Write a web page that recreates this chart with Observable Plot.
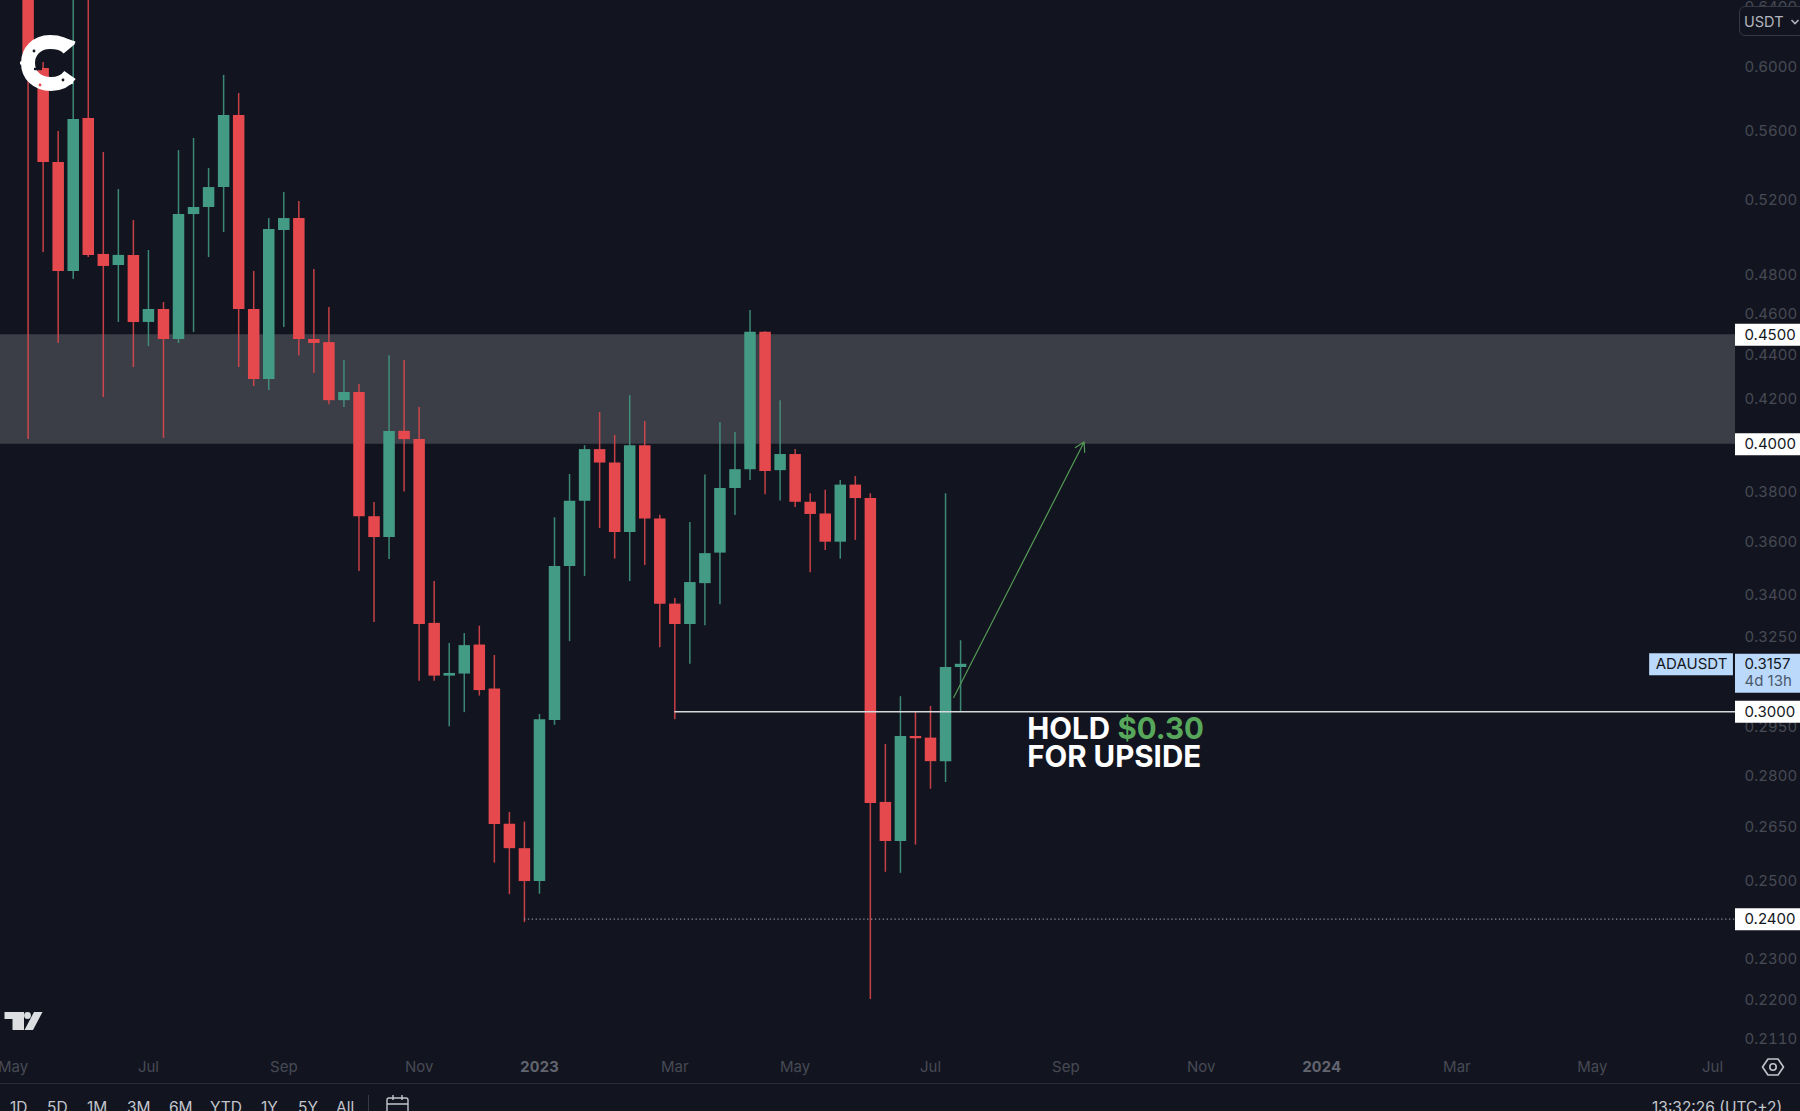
<!DOCTYPE html>
<html>
<head>
<meta charset="utf-8">
<script src="https://cdn.jsdelivr.net/npm/d3@7"></script>
<script src="https://cdn.jsdelivr.net/npm/@observablehq/plot@0.6"></script>
<style>
html,body{margin:0;padding:0;background:#12151f;}
#stage{position:relative;width:1800px;height:1111px;overflow:hidden;background:#12151f;font-family:Inter,"Noto Sans",sans-serif;}
#stage svg.plot{display:block;position:absolute;left:0;top:0;max-width:none;}
.ov{position:absolute;white-space:nowrap;line-height:1;}
.range{position:absolute;top:1100px;font-size:15.5px;color:#c3c5cc;line-height:1;white-space:nowrap;}
</style>
</head>
<body>
<div id="stage"></div>
<script>
// Weekly candles ADAUSDT, May 2022 - Jul 2023
const open = [.6657,.5992,.5416,.4817,.5678,.4906,.4848,.4901,.4560,.4624,.4477,.5121,.5160,.5272,.5697,.4624,.4288,.5034,.5099,.4477,.4462,.4192,.4229,.3700,.3618,.4056,.4020,.3299,.3117,.3124,.3223,.3074,.2658,.2589,.2499,.2972,.3507,.3762,.3977,.3920,.3638,.3994,.3691,.3368,.3295,.3443,.3558,.3814,.3892,.4512,.3888,.3956,.3758,.3711,.3600,.3828,.3773,.2721,.2609,.2921,.2916,.2843,.3146];
const close = [.5992,.5416,.4817,.5673,.4901,.4843,.4901,.4560,.4624,.4477,.5121,.5160,.5272,.5697,.4624,.4288,.5039,.5099,.4477,.4458,.4192,.4229,.3700,.3618,.4055,.4020,.3295,.3117,.3126,.3221,.3069,.2657,.2589,.2499,.2974,.3507,.3762,.3977,.3920,.3638,.3994,.3691,.3368,.3295,.3447,.3556,.3814,.3892,.4512,.3884,.3956,.3758,.3709,.3600,.3828,.3773,.2718,.2609,.2921,.2914,.2843,.3146,.3157];
const high = [.6877,.6031,.5600,.6587,.6587,.5475,.5261,.5088,.4927,.4659,.5486,.5558,.5381,.5948,.5833,.4817,.5099,.5244,.5194,.4827,.4634,.4377,.4265,.3757,.4400,.4377,.4161,.3451,.3228,.3263,.3289,.3187,.2692,.2664,.2991,.3696,.3872,.3994,.4139,.4038,.4215,.4099,.3706,.3388,.3677,.3870,.4094,.4051,.4619,.4515,.4192,.3977,.3793,.3807,.3847,.3864,.3793,.2896,.3049,.2997,.3017,.3793,.3238];
const low = [.4020,.4916,.4458,.4775,.4890,.4206,.4560,.4344,.4443,.4025,.4458,.4511,.4890,.5023,.4344,.4256,.4238,.4535,.4400,.4316,.4174,.4161,.3488,.3302,.3534,.3800,.3100,.3100,.2952,.2997,.3051,.2549,.2464,.2391,.2465,.2956,.3235,.3470,.3653,.3535,.3451,.3511,.3214,.2974,.3157,.3291,.3366,.3705,.3847,.3789,.3763,.3737,.3484,.3568,.3535,.3607,.2201,.2524,.2521,.2599,.2760,.2780,.2998];
const firstWeek = new Date(Date.UTC(2022,4,9));
const weeks = open.map((_, i) => d3.utcDay.offset(firstWeek, i * 7));

const bg = "#12151f", red = "#e5484d", green = "#449b85";
const candles = weeks.map((date, i) => ({date, open: open[i], close: close[i], high: high[i], low: low[i], up: close[i] >= open[i]}));

// Scales and axis ticks
const xDomain = [new Date("2022-04-26T03:36Z"), new Date("2024-07-11T16:00Z")];
const xFar = new Date("2025-01-01T00:00Z");
const yDomain = [0.2095, 0.6447];
const priceTicks = [.64,.60,.56,.52,.48,.46,.44,.42,.38,.36,.34,.325,.295,.28,.265,.25,.23,.22,.211];
const monthTicks = ["2022-05-02","2022-07-04","2022-09-05","2022-11-07","2023-03-06","2023-05-01","2023-07-03","2023-09-04","2023-11-06","2024-03-04","2024-05-06","2024-07-01"].map(d => new Date(d + "T00:00Z"));
const yearTicks = ["2023-01-02","2024-01-01"].map(d => new Date(d + "T00:00Z"));
const monthName = d3.utcFormat("%b"), yearName = d3.utcFormat("%Y");

// Drawn levels and annotations
const zone = {low: .40, high: .45};
const levelBoxes = [.45, .40, .30, .24];
const holdLevel = {price: .30, from: new Date("2023-03-06T00:00Z")};
const floorLevel = {price: .24, from: new Date("2022-12-26T00:00Z")};
const lastPrice = .3157;
const arrow = [{x1: new Date("2023-07-13T19:00Z"), y1: .3046, x2: new Date("2023-09-12T12:00Z"), y2: .401}];
const notes = [
  {text: "HOLD", date: new Date("2023-08-17T00:00Z"), price: .2943, color: "#ffffff"},
  {text: "$0.30", date: new Date("2023-09-28T00:00Z"), price: .2943, color: "#58a85c"},
  {text: "FOR UPSIDE", date: new Date("2023-08-17T00:00Z"), price: .2856, color: "#ffffff"}
];
const tagFrom = new Date("2024-06-01T17:00Z"), tagTo = new Date("2024-07-10T17:00Z"), tagMid = new Date("2024-06-21T05:00Z");
const ranges = [["1D",10],["5D",47],["1M",87],["3M",127],["6M",169],["YTD",210],["1Y",261],["5Y",298],["All",336]];

const fmt = d => d.toFixed(4);
const chart = Plot.plot({
  width: 1800, height: 1111,
  marginLeft: 0, marginRight: 65, marginTop: 0, marginBottom: 66,
  style: {background: bg, fontFamily: "Inter, 'Noto Sans', sans-serif", overflow: "hidden"},
  x: {type: "utc", domain: xDomain},
  y: {type: "log", domain: yDomain},
  marks: [
    Plot.axisY(priceTicks, {anchor: "right", tickSize: 0, tickPadding: 9, tickFormat: fmt, label: null, fontSize: 15, fill: "#474a55"}),
    Plot.axisX(monthTicks, {tickSize: 0, tickPadding: 16, tickFormat: d => monthName(d), label: null, fontSize: 15, fill: "#474a55"}),
    Plot.axisX(yearTicks, {tickSize: 0, tickPadding: 16, tickFormat: d => yearName(d), label: null, fontSize: 15, fontWeight: 700, fill: "#62656f"}),
    Plot.rect([zone], {x1: () => xDomain[0], x2: () => xDomain[1], y1: "low", y2: "high", fill: "#3b3e47"}),
    Plot.ruleX(candles, {x: "date", y1: "low", y2: "high", stroke: d => d.up ? green : red, strokeWidth: 1.5, strokeOpacity: 0.85, clip: "frame"}),
    Plot.ruleX(candles, {x: "date", y1: "open", y2: "close", stroke: d => d.up ? green : red, strokeWidth: 11.5, clip: "frame"}),
    Plot.ruleY([floorLevel], {y: "price", x1: "from", x2: () => xDomain[1], stroke: "#8e9096", strokeWidth: 1.3, strokeDasharray: "1.3 2.6"}),
    Plot.ruleY([holdLevel], {y: "price", x1: "from", x2: () => xDomain[1], stroke: "#d8d9dc", strokeWidth: 1.4}),
    Plot.arrow(arrow, {x1: "x1", y1: "y1", x2: "x2", y2: "y2", stroke: "#559a57", strokeWidth: 1.2, bend: 0, headLength: 13}),
    Plot.text(notes, {x: "date", y: "price", text: "text", fill: "color", textAnchor: "start", fontSize: 29.5, fontWeight: 700}),
    Plot.ruleY(levelBoxes, {x1: () => xDomain[1], x2: () => xFar, stroke: "#ffffff", strokeWidth: 22}),
    Plot.text(levelBoxes, {x: () => xDomain[1], y: d => d, dx: 9, text: fmt, textAnchor: "start", fill: "#131722", fontSize: 15}),
    Plot.ruleY([lastPrice], {x1: () => xDomain[1], x2: () => xFar, dy: 9, stroke: "#bbd9fb", strokeWidth: 39}),
    Plot.ruleY([lastPrice], {x1: () => tagFrom, x2: () => tagTo, stroke: "#bbd9fb", strokeWidth: 22}),
    Plot.text(["ADAUSDT"], {x: () => tagMid, y: () => lastPrice, text: d => d, fill: "#131722", fontSize: 15}),
    Plot.text([lastPrice], {x: () => xDomain[1], y: d => d, dx: 9, text: fmt, textAnchor: "start", fill: "#131722", fontSize: 15}),
    Plot.text(["4d 13h"], {x: () => xDomain[1], y: () => lastPrice, dx: 9, dy: 17, text: d => d, textAnchor: "start", fill: "#4c5a6d", fontSize: 15})
  ]
});

const stage = document.getElementById("stage");
stage.appendChild(chart);

// TradingView chrome around the chart
const chrome = document.createElement("div");
chrome.innerHTML = `
<div class="ov" style="left:1739px;top:6px;width:80px;height:30px;box-sizing:border-box;border:1px solid #363a45;border-radius:6px;background:#12151f;"></div>
<div class="ov" style="left:1744px;top:15px;font-size:14.5px;color:#b2b5be;">USDT</div>
<svg class="ov" style="left:1790px;top:18px" width="10" height="8"><path d="M1.5 2 L5 5.5 L8.5 2" fill="none" stroke="#b2b5be" stroke-width="1.6"/></svg>
<div class="ov" style="left:0;top:1083px;width:1800px;height:1px;background:#2a2e39;"></div>
${ranges.map(([t, x]) => `<div class="range" style="left:${x}px">${t}</div>`).join("")}
<div class="ov" style="left:368px;top:1095px;width:1px;height:16px;background:#363a45;"></div>
<svg class="ov" style="left:386px;top:1095px" width="24" height="16"><rect x="1" y="3" width="21" height="18" rx="2" fill="none" stroke="#c3c5cc" stroke-width="1.4"/><path d="M1 9 H22 M7 0 V5 M16 0 V5" stroke="#c3c5cc" stroke-width="1.4"/></svg>
<div class="range" style="left:1652px;">13:32:26 (UTC+2)</div>
<svg class="ov" style="left:1761px;top:1056px" width="24" height="22"><path d="M7 3 H17 L22.5 11 L17 19 H7 L1.5 11 Z" fill="none" stroke="#c3c5cc" stroke-width="1.6" stroke-linejoin="round"/><circle cx="12" cy="11" r="3.2" fill="none" stroke="#c3c5cc" stroke-width="1.6"/></svg>
<svg class="ov" style="left:0;top:1005px" width="50" height="30"><path d="M4.5 7 H24 V25 H12.5 V14 H4.5 Z M34 7 H42.5 L33 25 H24.5 Z" fill="#dcdee2"/><circle cx="27.5" cy="10.5" r="3.4" fill="#dcdee2"/></svg>
<svg class="ov" style="left:15px;top:30px" width="70" height="70">
  <path d="M54 19 C49 13 42 12 35 12 C21 12 13 22 13 33 C13 45 22 54 36 54 C44 54 50 52 55 45" fill="none" stroke="#ffffff" stroke-width="14"/>
  <path d="M5 33 H14 M48 9 L60 13 M44 56 L58 52" stroke="#ffffff" stroke-width="3"/>
  <circle cx="19" cy="21" r="1.4" fill="#12151f"/><circle cx="48" cy="50" r="1.4" fill="#12151f"/><circle cx="25" cy="55" r="1.4" fill="#e5484d"/>
  <path d="M19 39 H27" stroke="#12151f" stroke-width="2.4"/>
</svg>`;
stage.appendChild(chrome);
</script>
</body>
</html>
